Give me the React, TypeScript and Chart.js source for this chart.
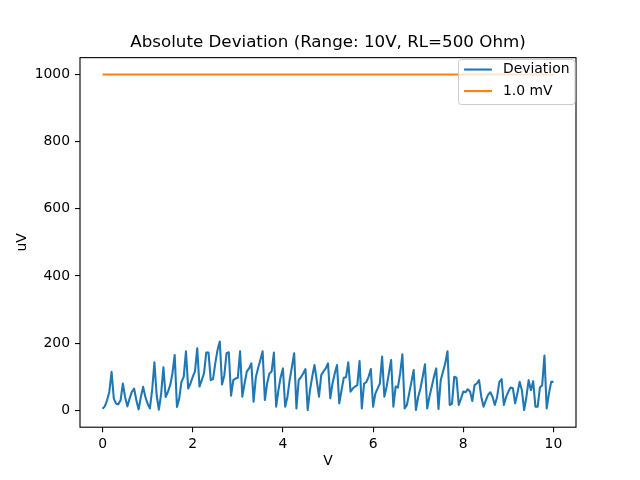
import React, { useEffect, useRef } from "react";
import { Chart, registerables } from "chart.js";

Chart.register(...registerables);

// ---- data ----
const TITLE = "Absolute Deviation (Range: 10V, RL=500 Ohm)";
const X_LABEL = "V";
const Y_LABEL = "uV";
const seriesLabels = ["Deviation", "1.0 mV"];
const seriesColors = ["#1f77b4", "#ff7f0e"];

// voltage sweep 0..10 V, 201 points (linspace)
const V_START = 0;
const V_END = 10;
const V_POINTS = 201;

// absolute deviation in uV, one value per sweep point
const deviationUV = [
  5, 12, 30, 55, 115, 35, 20, 18, 30, 80, 40, 12, 35, 55, 65, 30, 3, 40, 70, 40,
  20, 6, 60, 143, 45, 2, 50, 128, 40, 55, 75, 110, 165, 10, 35, 85, 100, 176, 65, 80,
  100, 116, 185, 71, 90, 110, 172, 172, 90, 93, 140, 180, 205, 77, 104, 170, 173, 44, 90, 95,
  97, 176, 41, 80, 116, 125, 140, 26, 99, 126, 150, 176, 31, 80, 110, 116, 172, 11, 60, 99,
  125, 11, 40, 90, 130, 170, 6, 90, 99, 110, 123, 1, 60, 100, 135, 90, 41, 105, 116, 125,
  140, 36, 80, 110, 135, 21, 60, 97, 99, 143, 56, 65, 71, 75, 147, 6, 80, 84, 100, 123,
  11, 50, 65, 80, 160, 41, 70, 110, 150, 11, 71, 68, 110, 167, 6, 16, 50, 85, 120, 1,
  40, 65, 100, 137, 6, 41, 70, 100, 125, 4, 90, 115, 140, 176, 16, 20, 100, 97, 16, 35,
  56, 54, 63, 56, 28, 75, 80, 90, 40, 11, 30, 46, 54, 40, 16, 40, 85, 93, 16, 40,
  56, 68, 66, 21, 50, 85, 60, 1, 40, 90, 60, 87, 11, 11, 68, 75, 163, 6, 50, 85,
  85,
];

const limitV = [0, 10];
const limitUV = [1000, 1000];

const xTicks = [0, 2, 4, 6, 8, 10];
const yTicks = [0, 200, 400, 600, 800, 1000];
const xRange = [-0.5, 10.5];
const yRange = [-50, 1050];

// ---- styling ----
const FONT = "DejaVu Sans";
const TICK_SIZE = 13.9;
const TITLE_SIZE = 16.7;
const LINE_W = 2.08;

const framePlugin = {
  id: "frame",
  afterDatasetsDraw(chart: any) {
    const { ctx, chartArea } = chart;
    ctx.save();
    ctx.strokeStyle = "#000";
    ctx.lineWidth = 1.1;
    ctx.strokeRect(chartArea.left, chartArea.top, chartArea.right - chartArea.left, chartArea.bottom - chartArea.top);
    ctx.restore();
  },
};

const legendPlugin = {
  id: "mplLegend",
  afterDraw(chart: any) {
    const { ctx, chartArea } = chart;
    const ds = chart.data.datasets;
    const fs = TICK_SIZE;
    const pad = 0.4 * fs;
    const handle = 2.0 * fs;
    const textPad = 0.8 * fs;
    ctx.save();
    ctx.font = `${fs}px "${FONT}"`;
    let maxW = 0;
    ds.forEach((d: any) => {
      maxW = Math.max(maxW, ctx.measureText(d.label).width);
    });
    const w = pad + handle + textPad + maxW + pad;
    const h = 45;
    const right = chartArea.right - 1;
    const x0 = right - w;
    const y0 = chartArea.top + 1.9;
    ctx.beginPath();
    if ((ctx as any).roundRect) (ctx as any).roundRect(x0, y0, w, h, 3);
    else ctx.rect(x0, y0, w, h);
    ctx.fillStyle = "rgba(255,255,255,0.8)";
    ctx.fill();
    ctx.strokeStyle = "#cccccc";
    ctx.lineWidth = 1;
    ctx.stroke();
    ds.forEach((d: any, i: number) => {
      const cy = y0 + 10 + i * 21.5;
      ctx.beginPath();
      ctx.moveTo(x0 + pad, cy);
      ctx.lineTo(x0 + pad + handle, cy);
      ctx.strokeStyle = d.borderColor;
      ctx.lineWidth = LINE_W;
      ctx.stroke();
      ctx.fillStyle = "#000";
      ctx.textBaseline = "middle";
      ctx.textAlign = "left";
      ctx.fillText(d.label, x0 + pad + handle + textPad, cy);
    });
    ctx.restore();
  },
};

export default function App() {
  const ref = useRef<HTMLCanvasElement | null>(null);

  useEffect(() => {
    if (!ref.current) return;
    const step = (V_END - V_START) / (V_POINTS - 1);
    const devData = deviationUV.map((y, i) => ({ x: V_START + i * step, y }));
    const limData = limitV.map((x, i) => ({ x, y: limitUV[i] }));

    const tickFont = { family: FONT, size: TICK_SIZE };
    const chart = new Chart(ref.current, {
      type: "line",
      data: {
        datasets: [
          {
            label: seriesLabels[0],
            data: devData,
            borderColor: seriesColors[0],
            backgroundColor: seriesColors[0],
            borderWidth: LINE_W,
            pointRadius: 0,
            borderJoinStyle: "round",
            tension: 0,
            fill: false,
          },
          {
            label: seriesLabels[1],
            data: limData,
            borderColor: seriesColors[1],
            backgroundColor: seriesColors[1],
            borderWidth: LINE_W,
            pointRadius: 0,
            tension: 0,
            fill: false,
          },
        ],
      },
      options: {
        responsive: false,
        animation: false,
        devicePixelRatio: 1,
        layout: { padding: { left: 0, right: 64, top: 0, bottom: 0 } },
        plugins: {
          legend: { display: false },
          tooltip: { enabled: false },
          title: {
            display: true,
            fullSize: false,
            text: TITLE,
            color: "#000",
            font: { family: FONT, size: TITLE_SIZE, weight: "normal", lineHeight: 1.2 },
            padding: { top: 33, bottom: 4.6 },
          },
        },
        scales: {
          x: {
            type: "linear",
            min: xRange[0],
            max: xRange[1],
            afterFit: (s: any) => {
              s.height = 52.8;
            },
            afterBuildTicks: (s: any) => {
              s.ticks = xTicks.map((v) => ({ value: v }));
            },
            ticks: {
              color: "#000",
              font: tickFont,
              padding: 4,
              maxRotation: 0,
              callback: (v: any) => String(v),
            },
            grid: {
              display: true,
              drawOnChartArea: false,
              drawTicks: true,
              tickLength: 5,
              color: "#000",
              lineWidth: 1.1,
            },
            border: { display: false },
            title: {
              display: true,
              text: X_LABEL,
              color: "#000",
              font: { family: FONT, size: TICK_SIZE, lineHeight: 1.2 },
              padding: { top: 0, bottom: 10.7 },
            },
          },
          y: {
            type: "linear",
            min: yRange[0],
            max: yRange[1],
            afterFit: (s: any) => {
              s.width = 80;
            },
            afterBuildTicks: (s: any) => {
              s.ticks = yTicks.map((v) => ({ value: v }));
            },
            ticks: {
              color: "#000",
              font: tickFont,
              padding: 5,
              callback: (v: any) => String(v),
            },
            grid: {
              display: true,
              drawOnChartArea: false,
              drawTicks: true,
              tickLength: 5,
              color: "#000",
              lineWidth: 1.1,
            },
            border: { display: false },
            title: {
              display: true,
              text: Y_LABEL,
              color: "#000",
              font: { family: FONT, size: TICK_SIZE, lineHeight: 1.2 },
              padding: { top: 13.7, bottom: 0 },
            },
          },
        },
      },
      plugins: [framePlugin, legendPlugin],
    } as any);
    return () => chart.destroy();
  }, []);

  return (
    <div style={{ position: "fixed", left: 0, top: 0, width: 640, height: 480, background: "#fff" }}>
      <canvas ref={ref} width={640} height={480} style={{ display: "block", width: 640, height: 480 }} />
    </div>
  );
}
